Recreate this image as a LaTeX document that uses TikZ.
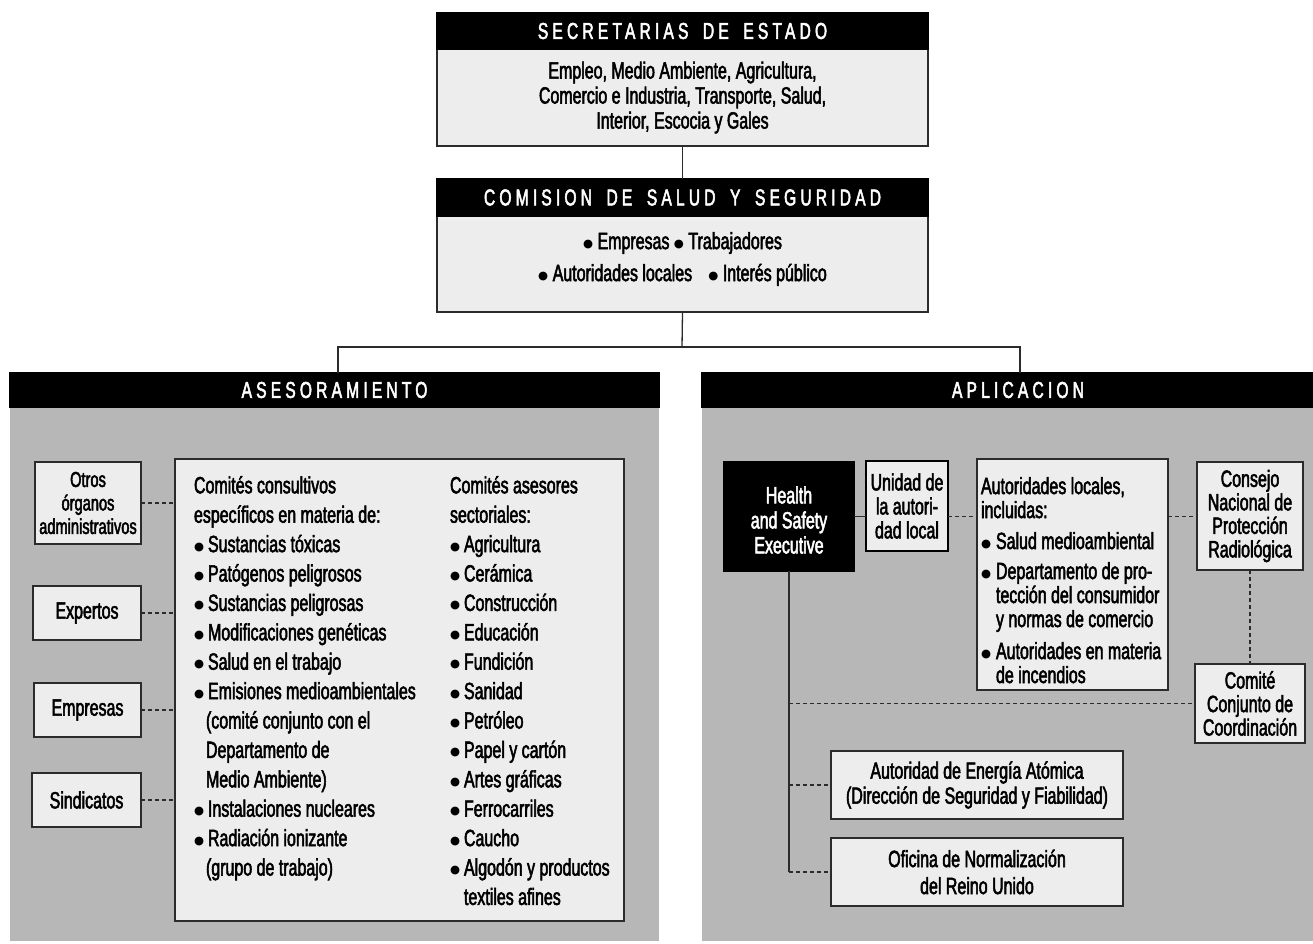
\documentclass[tikz,border=0pt]{standalone}
\usepackage{fontspec}
\setmainfont{Liberation Sans}[FakeStretch=0.68,FakeBold=2.2]
\newfontfamily\hdrfont{Liberation Sans}[FakeStretch=0.68,FakeBold=2.2,LetterSpace=18]
\newfontfamily\symfont{DejaVu Sans}
\definecolor{boxfill}{HTML}{EDEDED}
\definecolor{panelgray}{HTML}{B7B7B7}
\definecolor{edge}{HTML}{2B2B2B}
\newcommand{\bul}{\raisebox{2pt}{\symfont\fontsize{11.5}{11.5}\selectfont ●}}
\newcommand{\bl}{\makebox[14pt][l]{\bul}}
\newcommand{\ind}{\hspace*{12pt}}
\newcommand{\blr}{\makebox[15pt][l]{\bul}}
\newcommand{\indr}{\hspace*{15pt}}
\newcommand{\wsp}{\hspace{6pt}}
\begin{document}
\begin{tikzpicture}[x=1pt,y=-1pt,
  every node/.style={inner sep=0pt,outer sep=0pt},
  panel/.style={fill=panelgray,draw=none},
  hdr/.style={fill=black,draw=black,line width=1.5pt,text=white,font=\hdrfont\fontsize{23}{25}\selectfont},
  hdrtext/.style={text=white,font=\hdrfont\fontsize{23}{25}\selectfont},
  box/.style={fill=boxfill,draw=edge,line width=1.5pt,align=center,font=\fontsize{23.5}{25}\selectfont},
  plain/.style={align=center,font=\fontsize{23.5}{25}\selectfont},
  darkbox/.style={fill=black,draw=black,line width=1.5pt,text=white,align=center,font=\fontsize{23.5}{25}\selectfont},
  thickbox/.style={box,draw=black,line width=2.8pt},
  coltext/.style={align=left,font=\fontsize{23.5}{29.4}\selectfont},
  conn/.style={draw=edge,line width=1.3pt},
  dconn/.style={draw=edge,line width=1.1pt,dash pattern=on 4pt off 3pt}]
\useasboundingbox (0,0) rectangle (1313,943);

% panels
\node[panel,minimum width=649,minimum height=568] (asePanel) at (334.5,657) {};
\node[hdr,minimum width=649,minimum height=34] (aseHead) at (334.5,390) {ASESORAMIENTO};
\node[panel,minimum width=611,minimum height=568] (aplPanel) at (1007.5,657) {};
\node[hdr,minimum width=611,minimum height=34] (aplHead) at (1007.5,390) {};
\node[hdrtext] (aplTitle) at (1018,390) {APLICACION};

% top boxes
\node[box,minimum width=491,minimum height=97] (secBody) at (682.5,97.5)
  {Empleo, Medio Ambiente, Agricultura,\\Comercio e Industria, Transporte, Salud,\\Interior, Escocia y Gales};
\node[hdr,minimum width=491,minimum height=36] (secHead) at (682.5,31) {SECRETARIAS\wsp{} DE\wsp{} ESTADO};
\node[box,minimum width=491,minimum height=96] (comBody) at (682.5,264) {};
\node[plain,font=\fontsize{23.5}{32}\selectfont] (comText) at (682.5,259)
  {\bul\ Empresas \bul\ Trabajadores\\\bul\ Autoridades locales\enspace{} \bul\ Interés público};
\node[hdr,minimum width=491,minimum height=37] (comHead) at (682.5,197.5) {COMISION\wsp{} DE\wsp{} SALUD\wsp{} Y\wsp{} SEGURIDAD};

\draw[conn] (secBody.south) -- (comHead.north);
\coordinate (split) at (682,347);
\coordinate (aseDrop) at (338,373);
\coordinate (aplDrop) at (1020,373);
\draw[conn] (comBody.south) -- (split);
\draw[conn] (aseDrop) |- (split) -| (aplDrop);

% ASESORAMIENTO
\node[box,minimum width=106,minimum height=82,font=\fontsize{21.5}{23.5}\selectfont] (otros) at (88,503) {Otros\\órganos\\administrativos};
\node[box,minimum width=108,minimum height=54] (expertos) at (87,613) {Expertos};
\node[box,minimum width=107,minimum height=54] (empresas) at (87.5,710) {Empresas};
\node[box,minimum width=109,minimum height=54] (sindicatos) at (86.5,800) {Sindicatos};
\node[box,minimum width=449,minimum height=462] (big) at (399.5,690) {};
\node[coltext,anchor=north west] (colA) at (194,476) {Comités consultivos\\
específicos en materia de:\\
\bl Sustancias tóxicas\\
\bl Patógenos peligrosos\\
\bl Sustancias peligrosas\\
\bl Modificaciones genéticas\\
\bl Salud en el trabajo\\
\bl Emisiones medioambientales\\
\ind(comité conjunto con el\\
\ind Departamento de\\
\ind Medio Ambiente)\\
\bl Instalaciones nucleares\\
\bl Radiación ionizante\\
\ind(grupo de trabajo)};
\node[coltext,anchor=north west] (colB) at (450,476) {Comités asesores\\
sectoriales:\\
\bl Agricultura\\
\bl Cerámica\\
\bl Construcción\\
\bl Educación\\
\bl Fundición\\
\bl Sanidad\\
\bl Petróleo\\
\bl Papel y cartón\\
\bl Artes gráficas\\
\bl Ferrocarriles\\
\bl Caucho\\
\bl Algodón y productos\\
\hspace*{14pt}textiles afines};
\foreach \b in {otros,expertos,empresas,sindicatos}
  \draw[dconn] (\b.east) -- (\b.east -| big.west);

% APLICACION
\node[darkbox,minimum width=130,minimum height=109] (hse) at (789,516.5) {};
\node[plain,text=white] (hseText) at (789,520) {Health\\and Safety\\Executive};
\node[thickbox,minimum width=82,minimum height=90,font=\fontsize{23.5}{24}\selectfont] (unidad) at (907,506) {Unidad de\\la autori-\\dad local};
\node[box,minimum width=191,minimum height=231] (autloc) at (1072.5,574.5) {};
\node[coltext,anchor=north west,font=\fontsize{23.5}{24}\selectfont] (autlocText) at (981,477) {Autoridades locales,\\
incluidas:\\[7pt]
\blr Salud medioambiental\\[6pt]
\blr Departamento de pro-\\
\indr tección del consumidor\\
\indr y normas de comercio\\[8pt]
\blr Autoridades en materia\\
\indr de incendios};
\node[box,minimum width=106,minimum height=108,font=\fontsize{23.5}{23.5}\selectfont] (consejo) at (1250,516) {Consejo\\Nacional de\\Protección\\Radiológica};
\node[box,minimum width=110,minimum height=79,font=\fontsize{23.5}{23.5}\selectfont] (comite) at (1250,703.5) {Comité\\Conjunto de\\Coordinación};
\node[box,minimum width=292,minimum height=68] (energia) at (977,785) {Autoridad de Energía Atómica\\(Dirección de Seguridad y Fiabilidad)};
\node[box,minimum width=292,minimum height=68,font=\fontsize{23.5}{27}\selectfont] (oficina) at (977,872) {Oficina de Normalización\\del Reino Unido};

\draw[conn] (hse.east) -- (hse.east -| unidad.west);
\draw[dconn] (unidad.east |- hse.east) -- (autloc.west |- hse.east);
\draw[dconn] (autloc.east |- hse.east) -- (consejo.west |- hse.east);
\draw[dconn] (consejo.south) -- (comite.north);
\coordinate (hseEnd) at (hse.south |- oficina.west);
\draw[conn] (hse.south) -- (hseEnd);
\draw[dconn] (hseEnd) -- (oficina.west);
\draw[dconn] (hse.south |- comite.west) -- (comite.west);
\draw[dconn] (hse.south |- energia.west) -- (energia.west);
\end{tikzpicture}
\end{document}
